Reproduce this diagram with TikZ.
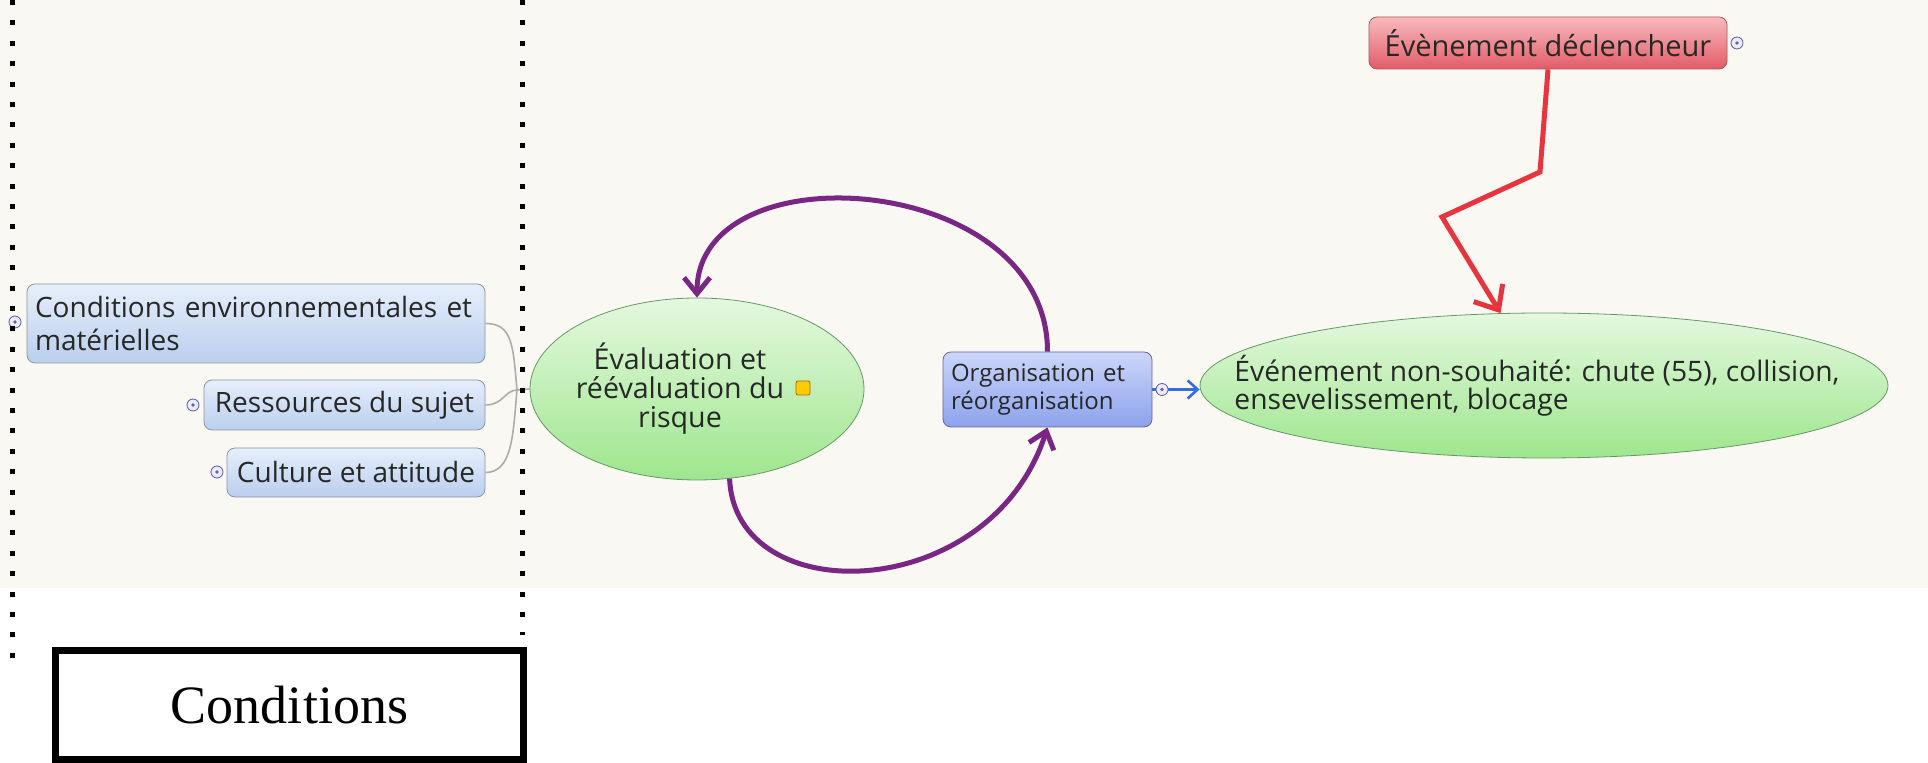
\documentclass[tikz,border=0pt]{standalone}
\usepackage{fontspec}
\setmainfont{Open Sans}
\newfontfamily\serifcond{Liberation Serif}
\usetikzlibrary{shapes.geometric,arrows.meta}
\definecolor{paperbg}{RGB}{249,248,243}
\definecolor{boxblueA}{RGB}{230,239,251}
\definecolor{boxblueB}{RGB}{186,206,238}
\definecolor{orgblueA}{RGB}{204,214,250}
\definecolor{orgblueB}{RGB}{140,162,236}
\definecolor{riskgreenA}{RGB}{228,248,222}
\definecolor{riskgreenB}{RGB}{158,230,142}
\definecolor{triggerA}{RGB}{248,186,190}
\definecolor{triggerB}{RGB}{226,92,104}
\definecolor{looppurple}{RGB}{122,38,132}
\definecolor{triggerred}{RGB}{232,52,60}
\definecolor{linkblue}{RGB}{52,110,218}
\definecolor{inkgray}{RGB}{38,40,38}
\definecolor{edgegray}{RGB}{140,148,160}

\begin{document}
\begin{tikzpicture}[x=0.5pt, y=-0.5pt,
    condbox/.style={draw=edgegray, top color=boxblueA, bottom color=boxblueB, rounded corners=4pt,
        text=inkgray, font=\fontsize{14}{16.5}\selectfont, inner sep=0pt},
    riskell/.style={ellipse, draw=gray!80!green, top color=riskgreenA, bottom color=riskgreenB, inner sep=0pt},
    dotmark/.style={circle, draw=gray!70!blue, fill=blue!8, inner sep=0pt, minimum size=6pt,
        path picture={\fill[gray!80!blue] (path picture bounding box.center) circle (0.9pt);}},
    branchline/.style={draw=gray!65, line width=0.8pt},
    looparrow/.style={looppurple, line width=2.5pt, -{Straight Barb[length=8pt,width=13pt]}},
    triggerarrow/.style={triggerred, line width=2.5pt, -{Straight Barb[length=10pt,width=17pt]}},
    linkarrow/.style={linkblue, line width=1.3pt, -{Straight Barb[length=5pt,width=9pt]}},
    dotrule/.style={line width=2.5pt, dash pattern=on 2.5pt off 7.7pt}
]
    \useasboundingbox (0,0) rectangle (1928,763);
    \fill[white] (0,0) rectangle (1928,763);
    \fill[paperbg] (0,0) rectangle (1928,588);

    % left branches
    \node[condbox, text width=221pt, inner xsep=4pt, minimum height=39.5pt, align=left] (envcond) at (256,323.5)
        {Conditions environnementales et\\matérielles};
    \node[condbox, minimum width=140.5pt, minimum height=25pt] (ressources) at (344.5,405) {Ressources du sujet};
    \node[condbox, minimum width=129pt, minimum height=24.5pt] (culture) at (356,472.5) {Culture et attitude};

    % central risk evaluation
    \node[riskell, minimum width=167pt, minimum height=91pt] (evalrisk) at (697,389) {};
    \node[align=center, text=inkgray, font=\fontsize{14.3}{14.5}\selectfont] (evaltext) at (680,389)
        {Évaluation et\\réévaluation du\\risque};
    \node[draw=orange!75!black, fill=yellow!65!orange, rounded corners=1pt, minimum size=7pt, inner sep=0pt] (note) at (803,388) {};

    % organisation
    \node[draw=gray!80!blue, top color=orgblueA, bottom color=orgblueB, rounded corners=4pt,
        minimum height=37.5pt, text width=96.5pt, inner xsep=4pt, inner ysep=0pt, align=left,
        text=inkgray, font=\fontsize{12}{14}\selectfont] (orgbox) at (1047.5,389.5)
        {Organisation et\\réorganisation};

    % undesired event
    \node[riskell, minimum width=344pt, minimum height=72.5pt] (chute) at (1544,385.5) {};
    \node[align=left, text=inkgray, font=\fontsize{14.1}{14.2}\selectfont] (chutetext) at (1537,386)
        {Événement non-souhaité: chute (55), collision,\\ensevelissement, blocage};

    % trigger
    \node[draw=gray!70!red, top color=triggerA, bottom color=triggerB, rounded corners=4pt,
        minimum width=179pt, minimum height=26pt, inner sep=0pt, text=inkgray,
        font=\fontsize{14.5}{17}\selectfont] (trigger) at (1548,43) {Évènement déclencheur};

    % connectors
    \coordinate (junction) at (517,390);
    \draw[branchline] (envcond.east) .. controls +(27,0) and +(-4,-45) .. (junction);
    \draw[branchline] (ressources.east) .. controls +(18,0) and +(-12,0) .. (junction);
    \draw[branchline] (culture.east) .. controls +(27,0) and +(-4,45) .. (junction);
    \draw[branchline] (junction) -- (evalrisk.west);

    \draw[looparrow] (orgbox.north) .. controls +(0,-180) and +(0,-150) .. (evalrisk.north);
    \draw[looparrow] (evalrisk.-70) .. controls +(5,133) and +(-57,178) .. (orgbox.south);

    \coordinate (kinkA) at (1540,172);
    \coordinate (kinkB) at (1442,217);
    \draw[triggerarrow] (trigger.south) -- (kinkA) -- (kinkB) -- (chute.121);

    \draw[linkarrow] (orgbox.east) -- (orgbox.east -| chute.west);

    % small markers
    \node[dotmark] (envdot) at (15,322) {};
    \node[dotmark] (resdot) at (193,405) {};
    \node[dotmark] (cultdot) at (217,472) {};
    \node[dotmark] (orgdot) at (1162,389.5) {};
    \node[dotmark] (trigdot) at (1737,43) {};

    % dotted frame and title
    \draw[dotrule] (12,0) -- (12,672);
    \draw[dotrule] (522,0) -- (522,635);
    \node[draw=black, line width=3.5pt, minimum width=234pt, minimum height=54.75pt,
        font=\serifcond\fontsize{27}{30}\selectfont] (condtitle) at (289.5,705.25) {Conditions};
\end{tikzpicture}
\end{document}
